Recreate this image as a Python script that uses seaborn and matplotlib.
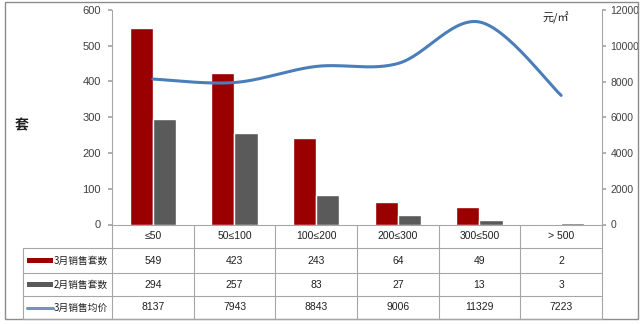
import numpy as np
import pandas as pd
import matplotlib
matplotlib.use("Agg")
import matplotlib.pyplot as plt
from matplotlib.patches import Rectangle
import seaborn as sns

categories = ["≤50", "50≤100", "100≤200", "200≤300", "300≤500", "> 500"]
march_units = [549, 423, 243, 64, 49, 2]
feb_units = [294, 257, 83, 27, 13, 3]
march_price = [8137, 7943, 8843, 9006, 11329, 7223]
series_names = ["3月销售套数", "2月销售套数", "3月销售均价"]

RED = "#9B0000"
GRAY = "#5A5A5A"
BLUE = "#4A7EBB"
AXC = "#A6A6A6"
NUMFONT = ['Liberation Sans', 'DejaVu Sans']

sns.set_theme(style="white")
plt.rcParams['font.family'] = ['Noto Sans CJK SC', 'DejaVu Sans']

W, H = 640, 324
fig = plt.figure(figsize=(6.4, 3.24), dpi=100)
fig.patch.set_facecolor("white")

x_l, x_r, y_top, y_0 = 112, 602, 10, 224.5
ax = fig.add_axes([x_l / W, 1 - y_0 / H, (x_r - x_l) / W, (y_0 - y_top) / H])

df = pd.DataFrame({
    "cat": categories * 2,
    "value": march_units + feb_units,
    "series": [series_names[0]] * 6 + [series_names[1]] * 6,
})
sns.barplot(data=df, x="cat", y="value", hue="series", order=categories,
            palette=[RED, GRAY], width=0.57, saturation=1, ax=ax, legend=False)
ax.set_xlim(-0.5, len(categories) - 0.5)
ax.set_ylim(0, 600)
ax.set_yticks(range(0, 601, 100))
ax.set_xticks([])
ax.set_xlabel("")
ax.set_ylabel("")
ax.tick_params(axis="y", labelsize=8, labelcolor="#404040", length=3, color=AXC, pad=5, left=True)
for lab in ax.get_yticklabels():
    lab.set_family(NUMFONT)
for s in ["top", "right"]:
    ax.spines[s].set_visible(False)
ax.spines["left"].set_color(AXC)
ax.spines["bottom"].set_color(AXC)
ax.spines["left"].set_linewidth(0.8)
ax.spines["bottom"].set_linewidth(0.8)

# smoothed line (Catmull-Rom through data points, like Excel smoothing)
ax2 = ax.twinx()
xs = np.arange(len(march_price), dtype=float)
ys = np.array(march_price, dtype=float)
P = np.concatenate([[ys[0]], ys, [ys[-1]]])
X = np.concatenate([[xs[0]], xs, [xs[-1]]])
cx, cy = [], []
t = np.linspace(0, 1, 30)
for i in range(1, len(P) - 2):
    p0, p1, p2, p3 = P[i - 1], P[i], P[i + 1], P[i + 2]
    q0, q1, q2, q3 = X[i - 1], X[i], X[i + 1], X[i + 2]
    def cr(a, b, c, d):
        return 0.5 * ((2 * b) + (-a + c) * t + (2 * a - 5 * b + 4 * c - d) * t ** 2 + (-a + 3 * b - 3 * c + d) * t ** 3)
    cx.extend(cr(q0, q1, q2, q3))
    cy.extend(cr(p0, p1, p2, p3))
ax2.plot(cx, cy, color=BLUE, lw=2.2, solid_capstyle="round")
ax2.set_ylim(0, 12000)
ax2.set_yticks(range(0, 12001, 2000))
ax2.tick_params(axis="y", labelsize=7.5, labelcolor="#404040", length=3, color=AXC, pad=3, right=True)
for lab in ax2.get_yticklabels():
    lab.set_family(NUMFONT)
for s in ["top", "left", "bottom"]:
    ax2.spines[s].set_visible(False)
ax2.spines["right"].set_color(AXC)
ax2.spines["right"].set_linewidth(0.8)
ax2.grid(False)
ax.grid(False)

# overlay in pixel coordinates for table and labels
ov = fig.add_axes([0, 0, 1, 1], facecolor="none")
ov.set_xlim(0, W)
ov.set_ylim(H, 0)
ov.axis("off")

ov.add_patch(Rectangle((5, 2), 633, 317, fill=False, edgecolor="#8C8C8C", lw=1))
ov.text(22, 125, "套", fontsize=10, fontweight="bold", ha="center", va="center", color="#202020")
ov.text(556, 18, "元/㎡", fontsize=8, ha="center", va="center", color="#202020")

colw = (x_r - x_l) / len(categories)
rows = [224.5, 248, 273, 296, 319]
lc = "#A6A6A6"
for yy in rows[1:]:
    ov.plot([22.7, x_r], [yy, yy], color=lc, lw=0.8)
for i in range(len(categories) + 1):
    xx = x_l + i * colw
    ov.plot([xx, xx], [rows[0], rows[-1]], color=lc, lw=0.8)
ov.plot([22.7, 22.7], [rows[1], rows[-1]], color=lc, lw=0.8)

tc = "#202020"
for i, c in enumerate(categories):
    cxp = x_l + (i + 0.5) * colw
    ov.text(cxp, (rows[0] + rows[1]) / 2, c, fontsize=7.5, ha="center", va="center", color=tc, family=NUMFONT)
    ov.text(cxp, (rows[1] + rows[2]) / 2, str(march_units[i]), fontsize=7.5, ha="center", va="center", color=tc, family=NUMFONT)
    ov.text(cxp, (rows[2] + rows[3]) / 2, str(feb_units[i]), fontsize=7.5, ha="center", va="center", color=tc, family=NUMFONT)
    ov.text(cxp, (rows[3] + rows[4]) / 2, str(march_price[i]), fontsize=7.5, ha="center", va="center", color=tc, family=NUMFONT)

for r, (name, col) in enumerate(zip(series_names, [RED, GRAY, BLUE])):
    yc = (rows[r + 1] + rows[r + 2]) / 2
    if r < 2:
        ov.add_patch(Rectangle((27, yc - 2.5), 26, 5, facecolor=col, edgecolor="none"))
    else:
        ov.plot([27, 53], [yc, yc], color="#7393C4", lw=2.2)
    ov.text(54, yc, name, fontsize=7, ha="left", va="center", color=tc)

fig.savefig("out.png", dpi=100, facecolor="white")
